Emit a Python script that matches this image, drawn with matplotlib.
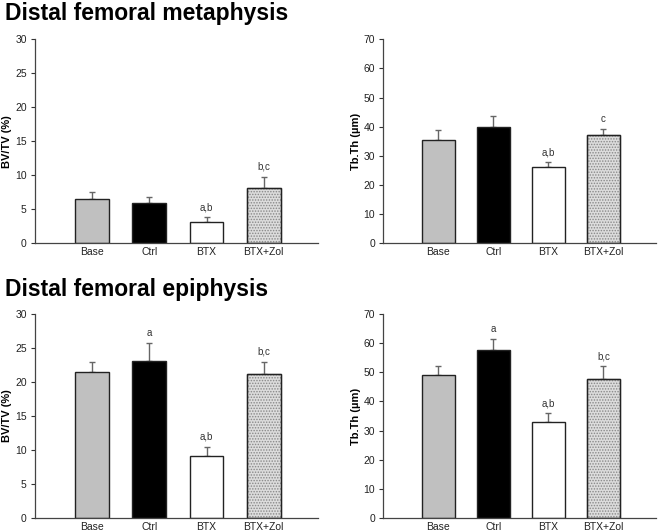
import numpy as np
from matplotlib import pyplot as plt

plt.rcParams['font.family'] = ['Liberation Sans', 'DejaVu Sans']
plt.rcParams['hatch.linewidth'] = 0.7

# data
groups = ['Base', 'Ctrl', 'BTX', 'BTX+Zol']

meta_bvtv = [6.45, 5.95, 3.1, 8.2]
meta_bvtv_err = [1.05, 0.9, 0.75, 1.55]
meta_bvtv_sig = ['', '', 'a,b', 'b,c']

meta_tbth = [35.5, 40.0, 26.3, 37.3]
meta_tbth_err = [3.2, 3.8, 1.5, 1.9]
meta_tbth_sig = ['', '', 'a,b', 'c']

epi_bvtv = [21.5, 23.1, 9.1, 21.15]
epi_bvtv_err = [1.4, 2.7, 1.4, 1.85]
epi_bvtv_sig = ['', 'a', 'a,b', 'b,c']

epi_tbth = [49.1, 57.6, 32.8, 47.9]
epi_tbth_err = [3.0, 3.9, 3.1, 4.2]
epi_tbth_sig = ['', 'a', 'a,b', 'b,c']

face = ['#c0c0c0', '#000000', '#ffffff', '#dcdcdc']
hatch = [None, None, None, '......']


def bar_panel(ax, vals, errs, sig, ymax, ylabel):
    x = np.arange(1, len(groups) + 1)
    bars = ax.bar(x, vals, width=0.59, color=face, edgecolor='#222222',
                  linewidth=1.0, zorder=2)
    for b, h in zip(bars, hatch):
        if h:
            b.set_hatch(h)
            b.set_edgecolor('#888888')
            # redraw outline in dark
            ax.bar(b.get_x() + b.get_width() / 2, b.get_height(), width=b.get_width(),
                   fill=False, edgecolor='#222222', linewidth=1.0, zorder=3)
    ax.errorbar(x, vals, yerr=[np.zeros(len(vals)), errs], fmt='none',
                ecolor='#666666', elinewidth=1.0, capsize=2.5, capthick=1.0, zorder=1)
    for xi, v, e, s in zip(x, vals, errs, sig):
        if s:
            ax.text(xi, v + e + ymax * 0.025, s, ha='center', va='bottom',
                    fontsize=7, color='#333333')
    ax.set_xlim(0, 4.95)
    ax.set_ylim(0, ymax)
    ax.set_yticks(np.arange(0, ymax + 1, 5 if ymax == 30 else 10))
    ax.set_xticks(x)
    ax.set_xticklabels(groups)
    ax.tick_params(axis='x', length=0, labelsize=7.5, pad=3, colors='#222222')
    ax.tick_params(axis='y', length=3, width=0.8, labelsize=7.5, pad=3,
                   colors='#333333', labelcolor='#222222')
    ax.set_ylabel(ylabel, fontsize=8, fontweight='bold', labelpad=2)
    for sp in ['top', 'right']:
        ax.spines[sp].set_visible(False)
    for sp in ['left', 'bottom']:
        ax.spines[sp].set_color('#444444')
        ax.spines[sp].set_linewidth(0.9)


fig = plt.figure(figsize=(6.68, 5.32), dpi=100)

ax1 = fig.add_axes([0.0524, 0.5427, 0.4237, 0.3835])
ax2 = fig.add_axes([0.5738, 0.5427, 0.4078, 0.3835])
ax3 = fig.add_axes([0.0524, 0.0269, 0.4237, 0.3823])
ax4 = fig.add_axes([0.5738, 0.0269, 0.4078, 0.3823])

bar_panel(ax1, meta_bvtv, meta_bvtv_err, meta_bvtv_sig, 30, 'BV/TV (%)')
bar_panel(ax2, meta_tbth, meta_tbth_err, meta_tbth_sig, 70, 'Tb.Th (µm)')
bar_panel(ax3, epi_bvtv, epi_bvtv_err, epi_bvtv_sig, 30, 'BV/TV (%)')
bar_panel(ax4, epi_tbth, epi_tbth_err, epi_tbth_sig, 70, 'Tb.Th (µm)')

fig.text(0.008, 0.962, 'Distal femoral metaphysis', fontsize=16.5,
         fontweight='bold', va='baseline')
fig.text(0.008, 0.443, 'Distal femoral epiphysis', fontsize=16.5,
         fontweight='bold', va='baseline')

fig.savefig('out.png', dpi=100)
